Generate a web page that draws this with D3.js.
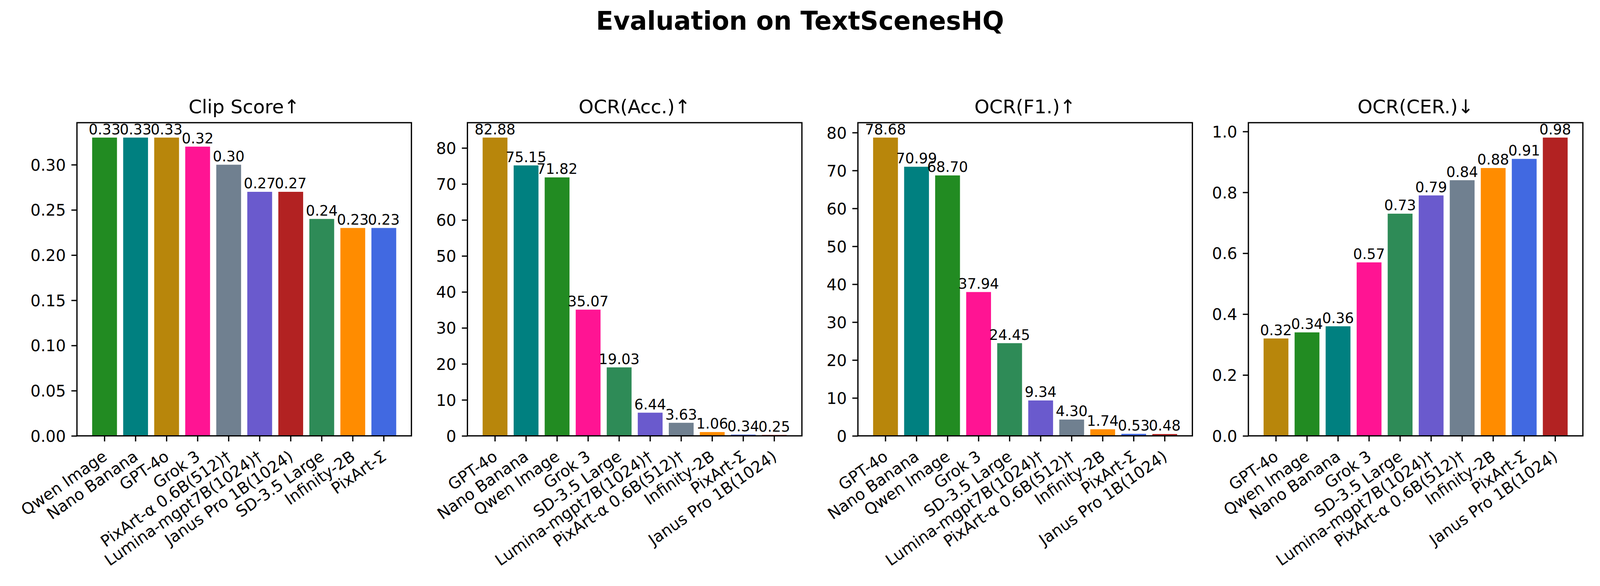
<!DOCTYPE html>
<html>
<head>
<meta charset="utf-8">
<script src="https://cdn.jsdelivr.net/npm/d3@7"></script>
<style>
  html, body { margin: 0; padding: 0; width: 100%; height: 100%; overflow: hidden; background: #fff; }
  #chart { width: 100vw; height: 100vh; }
  svg { display: block; width: 100%; height: 100%; font-family: "DejaVu Sans", sans-serif; }
</style>
</head>
<body>
<div id="chart"></div>
<script>
// ---- data ----
const suptitle = "Evaluation on TextScenesHQ";

const clipModels = ["Qwen Image", "Nano Banana", "GPT-4o", "Grok 3", "PixArt-α 0.6B(512)†",
  "Lumina-mgpt7B(1024)†", "Janus Pro 1B(1024)", "SD-3.5 Large", "Infinity-2B", "PixArt-Σ"];
const clipValues = [0.33, 0.33, 0.33, 0.32, 0.30, 0.27, 0.27, 0.24, 0.23, 0.23];
const clipTicks = [0, 0.05, 0.10, 0.15, 0.20, 0.25, 0.30];

const accModels = ["GPT-4o", "Nano Banana", "Qwen Image", "Grok 3", "SD-3.5 Large",
  "Lumina-mgpt7B(1024)†", "PixArt-α 0.6B(512)†", "Infinity-2B", "PixArt-Σ", "Janus Pro 1B(1024)"];
const accValues = [82.88, 75.15, 71.82, 35.07, 19.03, 6.44, 3.63, 1.06, 0.34, 0.25];
const accTicks = [0, 10, 20, 30, 40, 50, 60, 70, 80];

const f1Models = ["GPT-4o", "Nano Banana", "Qwen Image", "Grok 3", "SD-3.5 Large",
  "Lumina-mgpt7B(1024)†", "PixArt-α 0.6B(512)†", "Infinity-2B", "PixArt-Σ", "Janus Pro 1B(1024)"];
const f1Values = [78.68, 70.99, 68.70, 37.94, 24.45, 9.34, 4.30, 1.74, 0.53, 0.48];
const f1Ticks = [0, 10, 20, 30, 40, 50, 60, 70, 80];

const cerModels = ["GPT-4o", "Qwen Image", "Nano Banana", "Grok 3", "SD-3.5 Large",
  "Lumina-mgpt7B(1024)†", "PixArt-α 0.6B(512)†", "Infinity-2B", "PixArt-Σ", "Janus Pro 1B(1024)"];
const cerValues = [0.32, 0.34, 0.36, 0.57, 0.73, 0.79, 0.84, 0.88, 0.91, 0.98];
const cerTicks = [0, 0.2, 0.4, 0.6, 0.8, 1.0];

// colour per model (same in every panel)
const modelColors = {
  "Qwen Image": "#228B22",
  "Nano Banana": "#008080",
  "GPT-4o": "#B8860B",
  "Grok 3": "#FF1493",
  "PixArt-α 0.6B(512)†": "#708090",
  "Lumina-mgpt7B(1024)†": "#6A5ACD",
  "Janus Pro 1B(1024)": "#B22222",
  "SD-3.5 Large": "#2E8B57",
  "Infinity-2B": "#FF8C00",
  "PixArt-Σ": "#4169E1"
};

const panels = [
  { title: "Clip Score↑", models: clipModels, values: clipValues, ticks: clipTicks, fmt: ".2f" },
  { title: "OCR(Acc.)↑", models: accModels, values: accValues, ticks: accTicks, fmt: "d" },
  { title: "OCR(F1.)↑", models: f1Models, values: f1Values, ticks: f1Ticks, fmt: "d" },
  { title: "OCR(CER.)↓", models: cerModels, values: cerValues, ticks: cerTicks, fmt: ".1f" }
];

// ---- layout (matplotlib-ish, 300 dpi) ----
const W = 4200, H = 1500;
const pt = 300 / 72;
const axLeft0 = 202, axStep = 1025, axW = 878, axTop = 322, axH = 822;
const lineW = 0.8 * pt, tickLen = 3.5 * pt, tickPad = 3.5 * pt;

// viewBox so the figure fills the window width, pinned to the top-left
const svg = d3.select("#chart").append("svg")
  .attr("viewBox", `0 0 ${W} ${H}`)
  .attr("preserveAspectRatio", "xMinYMin meet");

svg.append("rect").attr("width", W).attr("height", H).attr("fill", "#fff");

svg.append("text")
  .attr("x", W / 2)
  .attr("y", 78)
  .attr("text-anchor", "middle")
  .attr("font-size", 16 * pt)
  .attr("font-weight", "bold")
  .text(suptitle);

panels.forEach((p, i) => {
  const g = svg.append("g")
    .attr("transform", `translate(${axLeft0 + i * axStep},${axTop})`);

  const x = d3.scaleBand()
    .domain(p.models)
    .range([0, axW])
    .paddingInner(0.2)
    .paddingOuter(0.49);

  const y = d3.scaleLinear()
    .domain([0, d3.max(p.values) * 1.05])
    .range([axH, 0]);

  const rows = p.models.map((m, j) => ({ model: m, value: p.values[j] }));

  // bars
  g.selectAll("rect.bar")
    .data(rows)
    .join("rect")
    .attr("class", "bar")
    .attr("x", d => x(d.model))
    .attr("y", d => y(d.value))
    .attr("width", x.bandwidth())
    .attr("height", d => y(0) - y(d.value))
    .attr("fill", d => modelColors[d.model]);

  // y axis
  const yAxis = g.append("g")
    .call(d3.axisLeft(y)
      .tickValues(p.ticks)
      .tickFormat(d3.format(p.fmt))
      .tickSize(tickLen)
      .tickPadding(tickPad)
      .tickSizeOuter(0));
  yAxis.select(".domain").remove();
  yAxis.attr("font-family", "DejaVu Sans").attr("font-size", 10 * pt);
  yAxis.selectAll(".tick line").attr("stroke", "#000").attr("stroke-width", lineW);
  yAxis.selectAll(".tick text").attr("fill", "#000").attr("dy", "0.36em");

  // x axis with rotated labels
  const xAxis = g.append("g")
    .attr("transform", `translate(0,${axH})`)
    .call(d3.axisBottom(x).tickSize(tickLen).tickSizeOuter(0));
  xAxis.select(".domain").remove();
  xAxis.attr("font-family", "DejaVu Sans").attr("font-size", 10 * pt);
  xAxis.selectAll(".tick line").attr("stroke", "#000").attr("stroke-width", lineW);
  xAxis.selectAll(".tick text")
    .attr("fill", "#000")
    .attr("x", 0)
    .attr("y", 0)
    .attr("dy", "0.76em")
    .attr("text-anchor", "end")
    .attr("transform", `translate(-9,${tickLen + 20}) rotate(-35)`);

  // value labels
  g.selectAll("text.val")
    .data(rows)
    .join("text")
    .attr("class", "val")
    .attr("x", d => x(d.model) + x.bandwidth() / 2)
    .attr("y", d => y(d.value) - 0.236 * 9 * pt)
    .attr("text-anchor", "middle")
    .attr("font-size", 9 * pt)
    .text(d => d3.format(".2f")(d.value));

  // frame
  g.append("rect")
    .attr("width", axW)
    .attr("height", axH)
    .attr("fill", "none")
    .attr("stroke", "#000")
    .attr("stroke-width", lineW);

  // subplot title
  g.append("text")
    .attr("x", axW / 2)
    .attr("y", -6 * pt)
    .attr("text-anchor", "middle")
    .attr("font-size", 12 * pt)
    .text(p.title);
});
</script>
</body>
</html>
